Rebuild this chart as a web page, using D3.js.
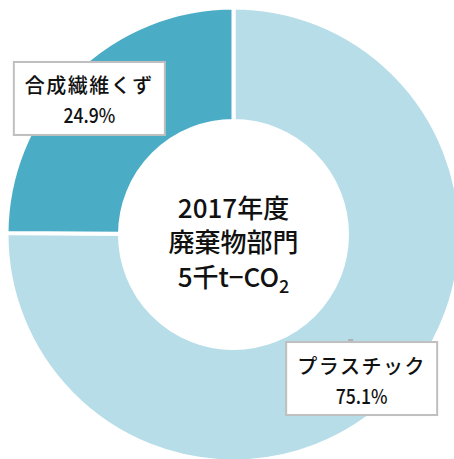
<!DOCTYPE html>
<html>
<head>
<meta charset="utf-8">
<script src="https://cdn.jsdelivr.net/npm/d3@7"></script>
<style>
  html, body { margin: 0; padding: 0; background: #ffffff; }
  svg { display: block; }
  text { font-family: "Noto Sans CJK JP", "Noto Sans", sans-serif; fill: #111111; font-weight: 500; }
</style>
</head>
<body>
<svg id="chart" width="454" height="459"></svg>
<script>
// Sector breakdown, waste sector CO2 emissions (FY2017)
const categories = ["プラスチック", "合成繊維くず"];
const shares = [75.1, 24.9];
const shareLabels = ["75.1%", "24.9%"];
const sliceColors = ["#b7dee8", "#4bacc6"];
const centerLines = ["2017年度", "廃棄物部門", "5千t\u2212CO"];

const W = 454, H = 459;
const cx = 233.5, cy = 234.5;
const outerR = 227, innerR = 113.5, gap = 4;

// label boxes: placed along each slice's bisector, then nudged
const boxW = 151, boxH = 73;
const boxRadius = 196;
const boxNudge = [[-10, 5], [-6, 3]];

const svg = d3.select("#chart");
const g = svg.append("g").attr("transform", `translate(${cx},${cy})`);

const pie = d3.pie().sort(null).value(d => d.value);
const arcs = pie(categories.map((c, i) => ({ name: c, value: shares[i], label: shareLabels[i], color: sliceColors[i] })));
const arc = d3.arc().innerRadius(innerR).outerRadius(outerR);

g.selectAll("path.slice")
  .data(arcs)
  .join("path")
  .attr("class", "slice")
  .attr("d", arc)
  .attr("fill", d => d.data.color)
  .attr("stroke", "#ffffff")
  .attr("stroke-width", gap)
  .attr("stroke-linejoin", "miter");

// centre caption
const center = g.append("text").attr("text-anchor", "middle").style("font-size", "26px");
center.append("tspan").attr("x", 0).attr("y", -17).text(centerLines[0]);
center.append("tspan").attr("x", 0).attr("y", 17).text(centerLines[1]);
const l3 = center.append("tspan").attr("x", 0).attr("y", 52);
l3.text(centerLines[2]);
center.append("tspan").attr("dy", 6).style("font-size", "18px").text("2");

// data labels in boxes
arcs.forEach((d, i) => {
  const mid = (d.startAngle + d.endAngle) / 2;
  const bx = Math.sin(mid) * boxRadius + boxNudge[i][0];
  const by = -Math.cos(mid) * boxRadius + boxNudge[i][1];
  const lg = g.append("g").attr("transform", `translate(${bx},${by})`);
  if (i === 0) {
    lg.append("line")
      .attr("x1", -11).attr("x2", -11)
      .attr("y1", -boxH / 2 - 3).attr("y2", -boxH / 2)
      .attr("stroke", "#b0b0b0").attr("stroke-width", 5);
  }
  lg.append("rect")
    .attr("x", -boxW / 2).attr("y", -boxH / 2)
    .attr("width", boxW).attr("height", boxH)
    .attr("fill", "#ffffff")
    .attr("stroke", "#bfbfbf")
    .attr("stroke-width", 2);
  lg.append("text").attr("text-anchor", "middle")
    .attr("x", 0).attr("y", -5)
    .style("font-size", "20px")
    .style("letter-spacing", "1.5px")
    .text(d.data.name);
  lg.append("text").attr("text-anchor", "middle")
    .attr("transform", "translate(0,25) scale(0.88,1)")
    .style("font-size", "20px")
    .text(d.data.label);
});
</script>
</body>
</html>
